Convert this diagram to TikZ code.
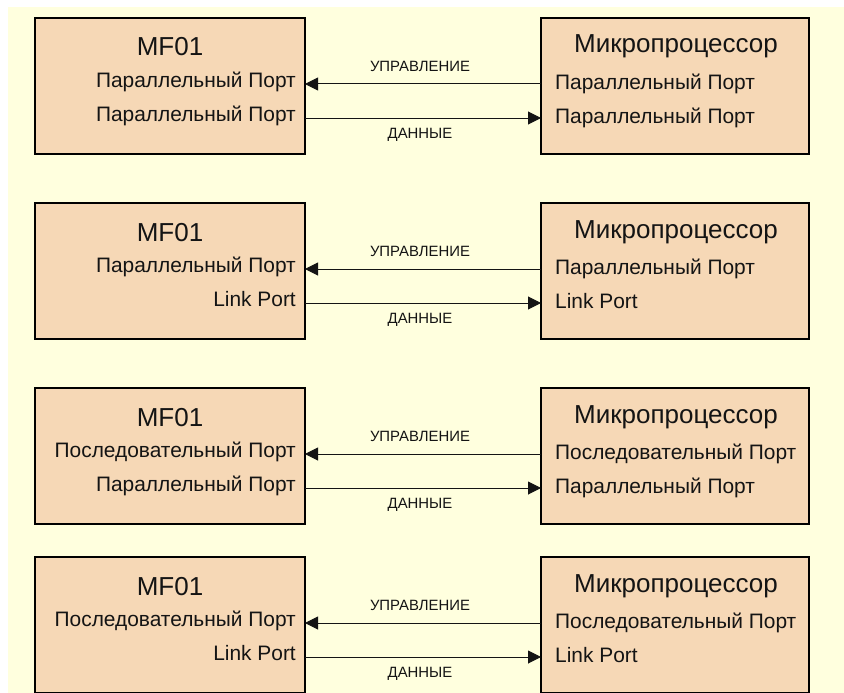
\documentclass[tikz,border=0pt]{standalone}
\usepackage{fontspec}
\setmainfont{Liberation Sans}
\usetikzlibrary{arrows.meta}
\definecolor{bgyellow}{RGB}{255,255,222}
\definecolor{boxfill}{RGB}{246,216,182}
\definecolor{ink}{RGB}{20,20,20}
\begin{document}
\begin{tikzpicture}[x=1pt,y=-1pt,
  box/.style={draw=black,line width=1.6pt,fill=boxfill,minimum width=#1,minimum height=136pt,anchor=north west,inner sep=0pt,outer sep=0pt},
  ttl/.style={font=\fontsize{26}{30}\selectfont,text=ink,inner sep=0pt,anchor=base},
  port/.style={font=\fontsize{20.9}{24}\selectfont,text=ink,inner sep=0pt},
  lbl/.style={font=\fontsize{14.9}{18}\selectfont,text=ink,inner sep=0pt,anchor=base},
  conn/.style={line width=1pt,draw=ink,-{Triangle[length=13pt,width=13pt]}}]
\useasboundingbox (0,0) rectangle (844,693);
\fill[white] (0,0) rectangle (844,693);
\fill[bgyellow] (8,7) rectangle (844,693);
\foreach \i/\t/\la/\lb/\ra/\rb in {
  1/18/{Параллельный Порт}/{Параллельный Порт}/{Параллельный Порт}/{Параллельный Порт},
  2/203/{Параллельный Порт}/{Link Port}/{Параллельный Порт}/{Link Port},
  3/388/{Последовательный Порт}/{Параллельный Порт}/{Последовательный Порт}/{Параллельный Порт},
  4/557/{Последовательный Порт}/{Link Port}/{Последовательный Порт}/{Link Port}}{
  \node[box=270pt] (L\i) at (35,\t) {};
  \node[box=268pt] (R\i) at (541,\t) {};
  \node[ttl] (Lt\i) at (170,\t+38) {MF01};
  \node[ttl] (Rt\i) at (676,\t+35) {Микропроцессор};
  \node[port,anchor=base east] (La\i) at (296,\t+69.5) {\la};
  \node[port,anchor=base east] (Lb\i) at (296,\t+103.5) {\lb};
  \node[port,anchor=base west] (Ra\i) at (555,\t+71.5) {\ra};
  \node[port,anchor=base west] (Rb\i) at (555,\t+105.5) {\rb};
  \coordinate (ya\i) at (0,\t+66);
  \coordinate (yb\i) at (0,\t+100);
  \draw[conn] (R\i.west |- ya\i) -- (L\i.east |- ya\i);
  \draw[conn] (L\i.east |- yb\i) -- (R\i.west |- yb\i);
  \node[lbl] (ctl\i) at (420,\t+53.5) {УПРАВЛЕНИЕ};
  \node[lbl] (dat\i) at (420,\t+120.3) {ДАННЫЕ};
}
\end{tikzpicture}
\end{document}
